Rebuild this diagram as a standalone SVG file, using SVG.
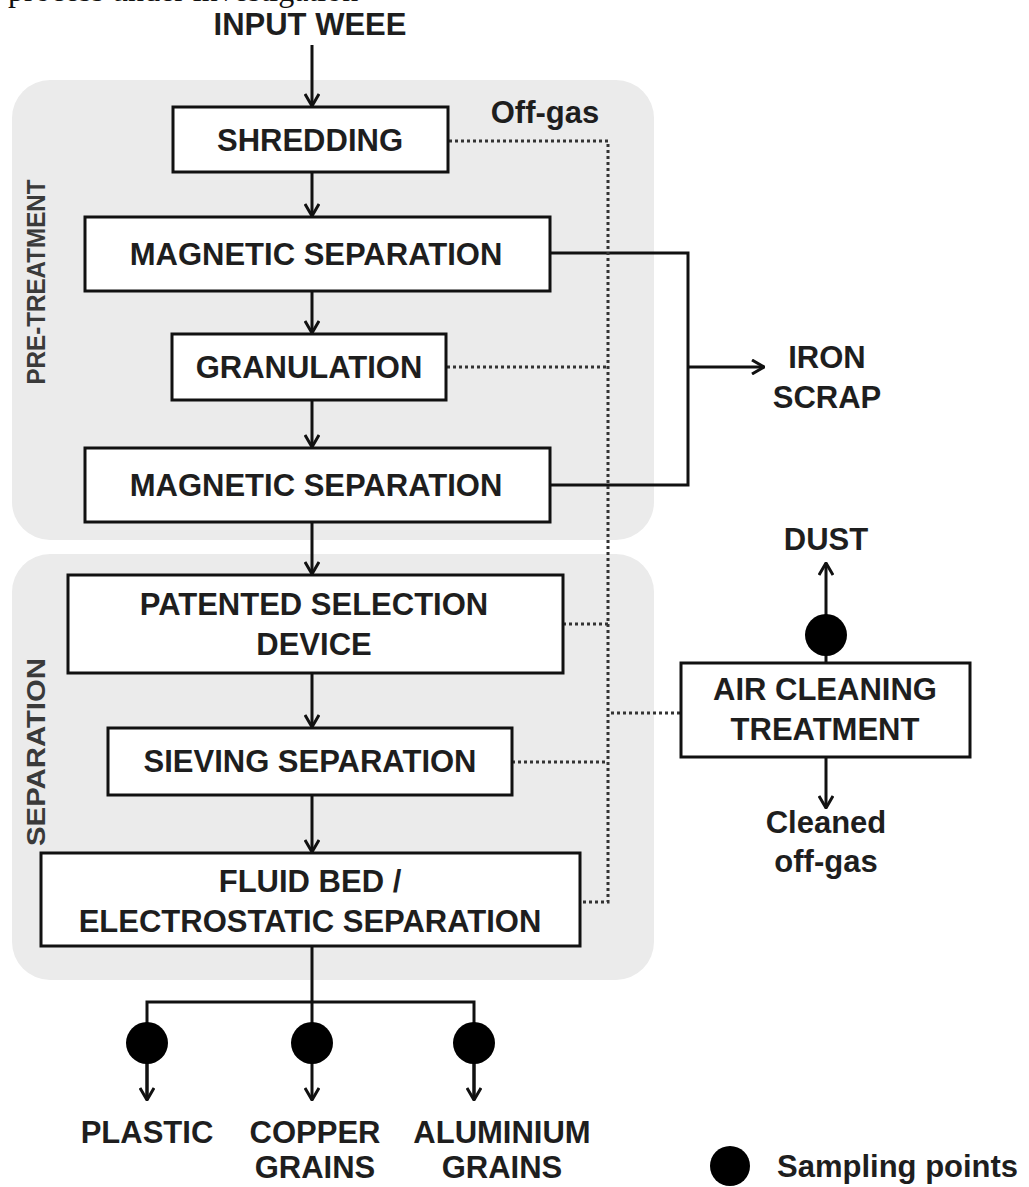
<svg xmlns="http://www.w3.org/2000/svg" width="1029" height="1187" viewBox="0 0 1029 1187">
<style>
.bg{fill:#ffffff}
.panel{fill:#ebebeb}
.box{fill:#ffffff;stroke:#111;stroke-width:3}
.t{font-family:"Liberation Sans",Arial,sans-serif;font-weight:bold;font-size:31px;fill:#1e1e1e;text-anchor:middle}
.side{font-family:"Liberation Sans",Arial,sans-serif;font-weight:bold;font-size:25px;fill:#3a3a3a;text-anchor:middle}
.flow{fill:none;stroke:#111;stroke-width:3}
.dot{fill:none;stroke:#333;stroke-width:3;stroke-dasharray:3 3}
.sp{fill:#000}
</style>
<defs>
<marker id="ah" viewBox="0 0 14 16" refX="13" refY="8" markerWidth="14" markerHeight="16" markerUnits="userSpaceOnUse" orient="auto">
<path d="M1,1 L13,8 L1,15" fill="none" stroke="#111" stroke-width="3"/>
</marker>
</defs>
<rect class="bg" x="0" y="0" width="1029" height="1187"/>
<text x="8" y="1" style="font-family:'Liberation Serif',serif;font-size:32px;fill:#111">process under investigation</text>

<g id="panel-pretreatment">
<rect class="panel" x="12" y="80" width="642" height="460" rx="38"/>
<text class="side" transform="translate(45,282) rotate(-90)" textLength="205" lengthAdjust="spacingAndGlyphs">PRE-TREATMENT</text>
</g>
<g id="panel-separation">
<rect class="panel" x="12" y="554" width="642" height="426" rx="38"/>
<text class="side" transform="translate(45,752) rotate(-90)" textLength="188" lengthAdjust="spacingAndGlyphs">SEPARATION</text>
</g>

<g id="connectors">
<line class="flow" x1="312" y1="45" x2="312" y2="106" marker-end="url(#ah)"/>
<line class="flow" x1="312" y1="172" x2="312" y2="216" marker-end="url(#ah)"/>
<line class="flow" x1="312" y1="291" x2="312" y2="333" marker-end="url(#ah)"/>
<line class="flow" x1="312" y1="400" x2="312" y2="447" marker-end="url(#ah)"/>
<line class="flow" x1="312" y1="522" x2="312" y2="574" marker-end="url(#ah)"/>
<line class="flow" x1="312" y1="673" x2="312" y2="727" marker-end="url(#ah)"/>
<line class="flow" x1="312" y1="795" x2="312" y2="852" marker-end="url(#ah)"/>
<polyline class="flow" points="551,253 688,253 688,485 551,485"/>
<line class="flow" x1="688" y1="367" x2="764" y2="367" marker-end="url(#ah)"/>
<line class="flow" x1="312" y1="946" x2="312" y2="1002"/>
<polyline class="flow" points="147,1100 147,1002 474,1002 474,1100"/>
<line class="flow" x1="147" y1="1040" x2="147" y2="1100" marker-end="url(#ah)"/>
<line class="flow" x1="312" y1="1002" x2="312" y2="1100" marker-end="url(#ah)"/>
<line class="flow" x1="474" y1="1040" x2="474" y2="1100" marker-end="url(#ah)"/>
<line class="flow" x1="826" y1="663" x2="826" y2="563" marker-end="url(#ah)"/>
<line class="flow" x1="826" y1="757" x2="826" y2="808" marker-end="url(#ah)"/>
<path class="dot" d="M449,141 H608 V902 H580"/>
<path class="dot" d="M447,367 H608"/>
<path class="dot" d="M563,624 H608"/>
<path class="dot" d="M512,762 H608"/>
<path class="dot" d="M680,713 H608"/>
</g>

<g id="input-weee"><text class="t" x="310" y="35">INPUT WEEE</text></g>
<g id="off-gas"><text class="t" x="545" y="123">Off-gas</text></g>
<g id="shredding">
<rect class="box" x="173" y="107" width="275" height="65"/>
<text class="t" x="310" y="151">SHREDDING</text>
</g>
<g id="magnetic-separation-1">
<rect class="box" x="85" y="217" width="465" height="74"/>
<text class="t" x="316" y="265">MAGNETIC SEPARATION</text>
</g>
<g id="granulation">
<rect class="box" x="172" y="334" width="274" height="66"/>
<text class="t" x="309" y="378">GRANULATION</text>
</g>
<g id="magnetic-separation-2">
<rect class="box" x="85" y="448" width="465" height="74"/>
<text class="t" x="316" y="496">MAGNETIC SEPARATION</text>
</g>
<g id="iron-scrap">
<text class="t" x="827" y="368">IRON</text>
<text class="t" x="827" y="408">SCRAP</text>
</g>
<g id="patented-selection-device">
<rect class="box" x="68" y="575" width="495" height="98"/>
<text class="t" x="314" y="615">PATENTED SELECTION</text>
<text class="t" x="314" y="655">DEVICE</text>
</g>
<g id="sieving-separation">
<rect class="box" x="108" y="728" width="404" height="67"/>
<text class="t" x="310" y="772">SIEVING SEPARATION</text>
</g>
<g id="fluid-bed">
<rect class="box" x="41" y="853" width="539" height="93"/>
<text class="t" x="310" y="892">FLUID BED /</text>
<text class="t" x="310" y="932">ELECTROSTATIC SEPARATION</text>
</g>
<g id="dust"><text class="t" x="826" y="550">DUST</text></g>
<g id="sampling-dust"><circle class="sp" cx="826" cy="635" r="21"/></g>
<g id="air-cleaning">
<rect class="box" x="681" y="663" width="289" height="94"/>
<text class="t" x="825" y="700">AIR CLEANING</text>
<text class="t" x="825" y="740">TREATMENT</text>
</g>
<g id="cleaned-off-gas">
<text class="t" x="826" y="833">Cleaned</text>
<text class="t" x="826" y="872">off-gas</text>
</g>
<g id="sampling-plastic"><circle class="sp" cx="147" cy="1043" r="21"/></g>
<g id="sampling-copper"><circle class="sp" cx="312" cy="1043" r="21"/></g>
<g id="sampling-aluminium"><circle class="sp" cx="474" cy="1043" r="21"/></g>
<g id="plastic"><text class="t" x="147" y="1143">PLASTIC</text></g>
<g id="copper-grains">
<text class="t" x="315" y="1143">COPPER</text>
<text class="t" x="315" y="1178">GRAINS</text>
</g>
<g id="aluminium-grains">
<text class="t" x="502" y="1143">ALUMINIUM</text>
<text class="t" x="502" y="1178">GRAINS</text>
</g>
<g id="legend">
<circle class="sp" cx="730" cy="1166" r="20"/>
<text class="t" x="777" y="1177" style="text-anchor:start">Sampling points</text>
</g>
</svg>
